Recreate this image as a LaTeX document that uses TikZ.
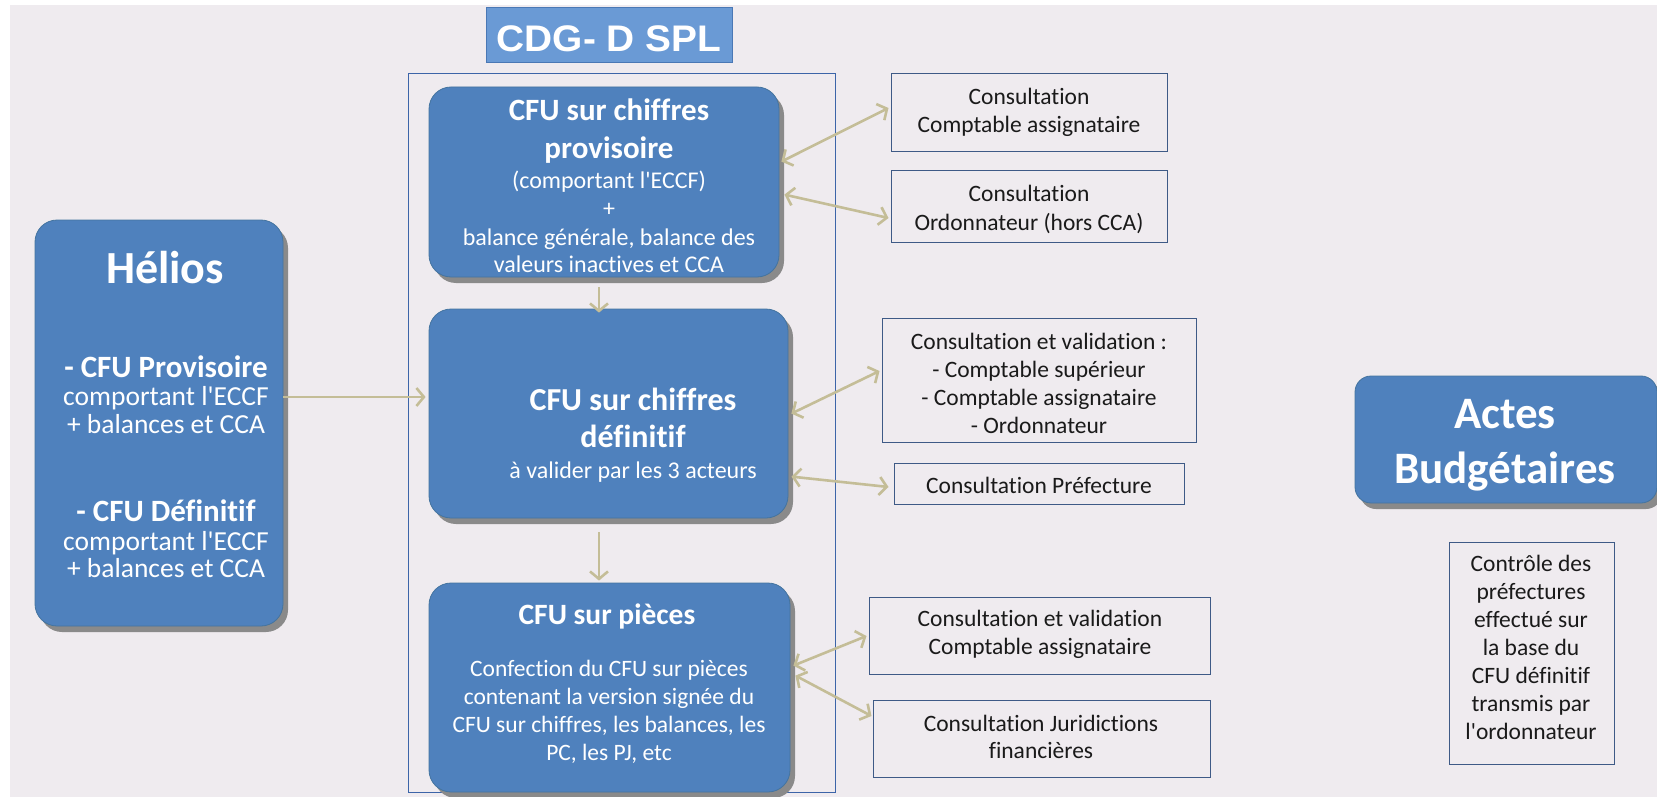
\documentclass[tikz,border=0pt]{standalone}
\usepackage{fontspec}
\defaultfontfeatures[\rmfamily]{}
\setmainfont{Carlito}[Ligatures={NoCommon,NoContextual}]
\newfontfamily\arialfont{Liberation Sans}[FakeStretch=1.05]
\usetikzlibrary{arrows.meta,shadows,calc,fit}
\definecolor{bgc}{HTML}{EFEBEF}
\definecolor{boxblue}{HTML}{4F81BD}
\definecolor{boxedge}{HTML}{44749F}
\definecolor{arrc}{HTML}{C4BD97}
\definecolor{lineblue}{HTML}{3C64A8}
\definecolor{cdgfill}{HTML}{6A9AD5}
\definecolor{cdgedge}{HTML}{4A78B5}
\definecolor{shadowc}{HTML}{8A8A8A}
\definecolor{rboxc}{HTML}{3E5A86}
\definecolor{darktext}{HTML}{1A1A1A}
\newcommand\fsz[1]{\fontsize{#1pt}{#1pt}\selectfont}
\begin{document}
\begin{tikzpicture}[x=1pt,y=-1pt,
  bluebox/.style={draw=boxedge, line width=0.8pt, fill=boxblue, rounded corners=22pt, inner sep=0pt,
    general shadow={fill=shadowc, shadow xshift=5pt, shadow yshift=-6pt}},
  rbox/.style={draw=rboxc, line width=1pt, fill=bgc, inner sep=0pt},
  wtitle/.style={anchor=base, inner sep=0pt, text=white, font=\fsz{31}\bfseries},
  wsub/.style={anchor=base, inner sep=0pt, text=white, font=\fsz{24}},
  hsub/.style={anchor=base, inner sep=0pt, text=white, font=\fsz{27.5}},
  dtext/.style={anchor=base, inner sep=0pt, text=darktext, font=\fsz{23.5}},
  arr/.style={draw=arrc, line width=2.6pt, -{Straight Barb[length=7.5pt,width=18pt]}},
  darr/.style={draw=arrc, line width=2.6pt, {Straight Barb[length=7.5pt,width=18pt]}-{Straight Barb[length=7.5pt,width=18pt]}}
]
\useasboundingbox (0,0) rectangle (1657,797);
\fill[white] (0,0) rectangle (1657,797);
\fill[bgc] (10,5) rectangle (1657,797);

% container and title
\node[draw=lineblue, line width=1pt, inner sep=0pt, fit={(408,74)(835,792)}] (cont) {};
\node[draw=cdgedge, line width=1pt, fill=cdgfill, inner sep=0pt, fit={(486,8)(732,63)}] (cdg) {};
\node[anchor=base, inner sep=0pt, text=white, font=\arialfont\fsz{37}\bfseries] (cdgt) at (609,52) {CDG- D SPL};

% blue boxes
\node[bluebox, fit={(35,220)(283,626)}] (helios) {};
\node[bluebox, fit={(429,87)(779,277)}] (b1) {};
\node[bluebox, fit={(429,309)(788,518)}] (b2) {};
\node[bluebox, fit={(429,583)(790,792)}] (b3) {};
\node[bluebox, rounded corners=16pt, fit={(1355,376)(1657,503)}] (actes) {};

% right boxes
\node[rbox, fit={(891,74)(1167,152)}] (r1) {};
\node[rbox, fit={(891,170)(1167,242)}] (r2) {};
\node[rbox, fit={(882,318)(1196,442)}] (r3) {};
\node[rbox, fit={(894,463)(1184,504)}] (r4) {};
\node[rbox, fit={(869,597)(1210,674)}] (r5) {};
\node[rbox, fit={(873,700)(1210,777)}] (r6) {};
\node[rbox, fit={(1449,542)(1614,764)}] (ctrl) {};

% Helios text
\node[anchor=base, inner sep=0pt, text=white, font=\fsz{46}\bfseries] (h0) at (165,283) {Hélios};
\node[wtitle] (h1) at (166,377) {- CFU Provisoire};
\node[hsub] (h2) at (166,405) {comportant l'ECCF};
\node[hsub] (h3) at (166,433) {+ balances et CCA};
\node[wtitle] (h4) at (166,521) {- CFU Définitif};
\node[hsub] (h5) at (166,550) {comportant l'ECCF};
\node[hsub] (h6) at (166,577) {+ balances et CCA};

% box 1 text
\node[wtitle] (b1a) at (609,121) {CFU sur chiffres};
\node[wtitle] (b1b) at (609,158) {provisoire};
\node[wsub] (b1c) at (609,188) {(comportant l'ECCF)};
\node[wsub] (b1d) at (609,216) {+};
\node[wsub] (b1e) at (609,245) {balance générale, balance des};
\node[wsub] (b1f) at (609,272) {valeurs inactives et CCA};

% box 2 text
\node[wtitle, font=\fsz{32}\bfseries] (b2a) at (633,410) {CFU sur chiffres};
\node[wtitle, font=\fsz{32}\bfseries] (b2b) at (633,447) {définitif};
\node[wsub] (b2c) at (633,478) {à valider par les 3 acteurs};

% box 3 text
\node[wtitle, font=\fsz{29.5}\bfseries] (b3a) at (607,624) {CFU sur pièces};
\node[wsub, font=\fsz{23.5}] (b3b) at (609,676) {Confection du CFU sur pièces};
\node[wsub, font=\fsz{23.5}] (b3c) at (609,704) {contenant la version signée du};
\node[wsub, font=\fsz{23.5}] (b3d) at (609,732) {CFU sur chiffres, les balances, les};
\node[wsub, font=\fsz{23.5}] (b3e) at (609,760) {PC, les PJ, etc};

% Actes
\node[anchor=base, inner sep=0pt, text=white, font=\fsz{45}\bfseries] (a1) at (1505,428) {Actes};
\node[anchor=base, inner sep=0pt, text=white, font=\fsz{45}\bfseries] (a2) at (1505,483) {Budgétaires};

% right box text
\node[dtext] (r1a) at (1029,105) {Consultation};
\node[dtext] (r1b) at (1029,133) {Comptable assignataire};
\node[dtext] (r2a) at (1029,201) {Consultation};
\node[dtext] (r2b) at (1029,230) {Ordonnateur (hors CCA)};
\node[dtext] (r3a) at (1039,349) {Consultation et validation :};
\node[dtext] (r3b) at (1039,377) {- Comptable supérieur};
\node[dtext] (r3c) at (1039,405) {- Comptable assignataire};
\node[dtext] (r3d) at (1039,433) {- Ordonnateur};
\node[dtext] (r4a) at (1039,493) {Consultation Préfecture};
\node[dtext] (r5a) at (1040,626) {Consultation et validation};
\node[dtext] (r5b) at (1040,654) {Comptable assignataire};
\node[dtext] (r6a) at (1041,731) {Consultation Juridictions};
\node[dtext] (r6b) at (1041,758) {financières};

% control text
\node[dtext] (c1) at (1531,571) {Contrôle des};
\node[dtext] (c2) at (1531,599) {préfectures};
\node[dtext] (c3) at (1531,627) {effectué sur};
\node[dtext] (c4) at (1531,655) {la base du};
\node[dtext] (c5) at (1531,683) {CFU définitif};
\node[dtext] (c6) at (1531,711) {transmis par};
\node[dtext] (c7) at (1531,739) {l'ordonnateur};

% connectors
\draw[arr] ($(helios.east)+(0,-26)$) -- ($(b2.west)+(-3,-16.5)$);
\draw[arr] ($(b1.south)+(-5,10)$) -- ($(b2.north)+(-9.5,4)$);
\draw[arr] ($(b2.south)+(-9.5,14)$) -- ($(b3.north)+(-10.5,-2)$);
\draw[darr] ($(b1.north east)+(2,75)$) -- ($(r1.west)+(-2,-5)$);
\draw[darr] ($(b1.north east)+(5,108)$) -- ($(r2.west)+(-2,12)$);
\draw[darr] ($(b2.north east)+(3,105)$) -- ($(r3.west)+(-2,-9)$);
\draw[darr] ($(b2.north east)+(3,168)$) -- ($(r4.west)+(-5,3.5)$);
\draw[darr] ($(b3.north east)+(3,83)$) -- ($(r5.west)+(-2,0.5)$);
\draw[darr] ($(b3.north east)+(5,93)$) -- ($(r6.west)+(-1,-22.5)$);
\end{tikzpicture}
\end{document}
